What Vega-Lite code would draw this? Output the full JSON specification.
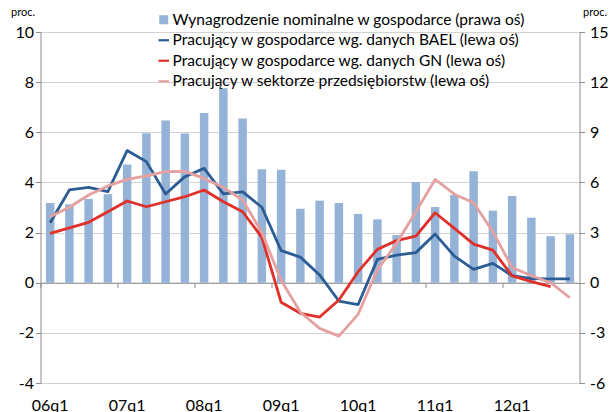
{
  "$schema": "https://vega.github.io/schema/vega-lite/v6.json",
  "width": 539,
  "height": 351,
  "autosize": {"type": "none"},
  "padding": {"left": 40.5, "top": 32, "right": 30.5, "bottom": 29},
  "background": "white",
  "config": {
    "view": {"stroke": null},
    "font": "Lato",
    "axis": {
      "labelFont": "Lato",
      "labelFontSize": 16,
      "labelColor": "#000000",
      "domainColor": "#8c8c8c",
      "tickColor": "#8c8c8c",
      "gridColor": "#d2d2d2",
      "titleFont": "Lato",
      "titleFontSize": 11,
      "titleFontWeight": "normal",
      "titleColor": "#000000"
    },
    "legend": {"labelFont": "Lato", "labelFontSize": 15.5, "labelColor": "#000000", "labelLimit": 0}
  },
  "datasets": {
    "d": [
      {"q": "06q1", "s": "W", "v": 4.77}, {"q": "06q2", "s": "W", "v": 4.69}, {"q": "06q3", "s": "W", "v": 5.01}, {"q": "06q4", "s": "W", "v": 5.29},
      {"q": "07q1", "s": "W", "v": 7.08}, {"q": "07q2", "s": "W", "v": 8.94}, {"q": "07q3", "s": "W", "v": 9.70}, {"q": "07q4", "s": "W", "v": 8.92},
      {"q": "08q1", "s": "W", "v": 10.16}, {"q": "08q2", "s": "W", "v": 11.63}, {"q": "08q3", "s": "W", "v": 9.82}, {"q": "08q4", "s": "W", "v": 6.79},
      {"q": "09q1", "s": "W", "v": 6.76}, {"q": "09q2", "s": "W", "v": 4.43}, {"q": "09q3", "s": "W", "v": 4.91}, {"q": "09q4", "s": "W", "v": 4.77},
      {"q": "10q1", "s": "W", "v": 4.11}, {"q": "10q2", "s": "W", "v": 3.79}, {"q": "10q3", "s": "W", "v": 2.85}, {"q": "10q4", "s": "W", "v": 6.03},
      {"q": "11q1", "s": "W", "v": 4.53}, {"q": "11q2", "s": "W", "v": 5.25}, {"q": "11q3", "s": "W", "v": 6.67}, {"q": "11q4", "s": "W", "v": 4.31},
      {"q": "12q1", "s": "W", "v": 5.19}, {"q": "12q2", "s": "W", "v": 3.89}, {"q": "12q3", "s": "W", "v": 2.78}, {"q": "12q4", "s": "W", "v": 2.90},

      {"q": "06q1", "s": "BAEL", "v": 2.39}, {"q": "06q2", "s": "BAEL", "v": 3.70}, {"q": "06q3", "s": "BAEL", "v": 3.80}, {"q": "06q4", "s": "BAEL", "v": 3.63},
      {"q": "07q1", "s": "BAEL", "v": 5.27}, {"q": "07q2", "s": "BAEL", "v": 4.83}, {"q": "07q3", "s": "BAEL", "v": 3.54}, {"q": "07q4", "s": "BAEL", "v": 4.23},
      {"q": "08q1", "s": "BAEL", "v": 4.56}, {"q": "08q2", "s": "BAEL", "v": 3.54}, {"q": "08q3", "s": "BAEL", "v": 3.62}, {"q": "08q4", "s": "BAEL", "v": 3.01},
      {"q": "09q1", "s": "BAEL", "v": 1.28}, {"q": "09q2", "s": "BAEL", "v": 1.02}, {"q": "09q3", "s": "BAEL", "v": 0.31}, {"q": "09q4", "s": "BAEL", "v": -0.73},
      {"q": "10q1", "s": "BAEL", "v": -0.87}, {"q": "10q2", "s": "BAEL", "v": 0.93}, {"q": "10q3", "s": "BAEL", "v": 1.10}, {"q": "10q4", "s": "BAEL", "v": 1.20},
      {"q": "11q1", "s": "BAEL", "v": 1.94}, {"q": "11q2", "s": "BAEL", "v": 1.06}, {"q": "11q3", "s": "BAEL", "v": 0.53}, {"q": "11q4", "s": "BAEL", "v": 0.77},
      {"q": "12q1", "s": "BAEL", "v": 0.28}, {"q": "12q2", "s": "BAEL", "v": 0.16}, {"q": "12q3", "s": "BAEL", "v": 0.15}, {"q": "12q4", "s": "BAEL", "v": 0.15},

      {"q": "06q1", "s": "GN", "v": 1.97}, {"q": "06q2", "s": "GN", "v": 2.19}, {"q": "06q3", "s": "GN", "v": 2.41}, {"q": "06q4", "s": "GN", "v": 2.83},
      {"q": "07q1", "s": "GN", "v": 3.26}, {"q": "07q2", "s": "GN", "v": 3.03}, {"q": "07q3", "s": "GN", "v": 3.23}, {"q": "07q4", "s": "GN", "v": 3.43},
      {"q": "08q1", "s": "GN", "v": 3.70}, {"q": "08q2", "s": "GN", "v": 3.23}, {"q": "08q3", "s": "GN", "v": 2.83}, {"q": "08q4", "s": "GN", "v": 1.81},
      {"q": "09q1", "s": "GN", "v": -0.78}, {"q": "09q2", "s": "GN", "v": -1.22}, {"q": "09q3", "s": "GN", "v": -1.37}, {"q": "09q4", "s": "GN", "v": -0.69},
      {"q": "10q1", "s": "GN", "v": 0.44}, {"q": "10q2", "s": "GN", "v": 1.33}, {"q": "10q3", "s": "GN", "v": 1.68}, {"q": "10q4", "s": "GN", "v": 1.86},
      {"q": "11q1", "s": "GN", "v": 2.79}, {"q": "11q2", "s": "GN", "v": 2.17}, {"q": "11q3", "s": "GN", "v": 1.54}, {"q": "11q4", "s": "GN", "v": 1.30},
      {"q": "12q1", "s": "GN", "v": 0.27}, {"q": "12q2", "s": "GN", "v": 0.04}, {"q": "12q3", "s": "GN", "v": -0.16},

      {"q": "06q1", "s": "SP", "v": 2.63}, {"q": "06q2", "s": "SP", "v": 3.01}, {"q": "06q3", "s": "SP", "v": 3.50}, {"q": "06q4", "s": "SP", "v": 3.86},
      {"q": "07q1", "s": "SP", "v": 4.12}, {"q": "07q2", "s": "SP", "v": 4.26}, {"q": "07q3", "s": "SP", "v": 4.43}, {"q": "07q4", "s": "SP", "v": 4.44},
      {"q": "08q1", "s": "SP", "v": 4.16}, {"q": "08q2", "s": "SP", "v": 3.80}, {"q": "08q3", "s": "SP", "v": 3.30}, {"q": "08q4", "s": "SP", "v": 2.00},
      {"q": "09q1", "s": "SP", "v": 0.10}, {"q": "09q2", "s": "SP", "v": -1.18}, {"q": "09q3", "s": "SP", "v": -1.82}, {"q": "09q4", "s": "SP", "v": -2.13},
      {"q": "10q1", "s": "SP", "v": -1.26}, {"q": "10q2", "s": "SP", "v": 0.51}, {"q": "10q3", "s": "SP", "v": 1.57}, {"q": "10q4", "s": "SP", "v": 2.83},
      {"q": "11q1", "s": "SP", "v": 4.12}, {"q": "11q2", "s": "SP", "v": 3.53}, {"q": "11q3", "s": "SP", "v": 3.19}, {"q": "11q4", "s": "SP", "v": 2.03},
      {"q": "12q1", "s": "SP", "v": 0.61}, {"q": "12q2", "s": "SP", "v": 0.28}, {"q": "12q3", "s": "SP", "v": 0.00}, {"q": "12q4", "s": "SP", "v": -0.60}
    ]
  },
  "data": {"name": "d"},
  "layer": [
    {
      "transform": [{"filter": "datum.s === 'W'"}],
      "mark": {"type": "bar"},
      "encoding": {
        "x": {
          "field": "q", "type": "ordinal",
          "scale": {"paddingInner": 0.56, "paddingOuter": 0.28},
          "axis": {
            "orient": "bottom",
            "title": null, "domain": false, "ticks": false, "grid": false,
            "labelAngle": 0, "labelPadding": 14,
            "values": ["06q1", "07q1", "08q1", "09q1", "10q1", "11q1", "12q1"]
          }
        },
        "y": {
          "field": "v", "type": "quantitative",
          "scale": {"domain": [-6, 15], "nice": false, "zero": false},
          "axis": {
            "orient": "right", "grid": false, "tickSize": 5, "labelPadding": 5,
            "values": [-6, -3, 0, 3, 6, 9, 12, 15],
            "labelExpr": "'' + datum.value",
            "title": "proc.", "titleAngle": 0, "titleAlign": "center", "titleBaseline": "middle",
            "titleX": 15, "titleY": -20
          }
        },
        "color": {
          "field": "s", "type": "nominal",
          "scale": {"domain": ["W", "BAEL", "GN", "SP"], "range": ["#95b3d7", "#2c5c94", "#e0302a", "#e4a19f"]},
          "legend": {
            "title": null,
            "orient": "none",
            "legendX": 115.5,
            "legendY": -20,
            "padding": 0,
            "rowPadding": 3.5,
            "labelOffset": 1,
            "labelLimit": 0,
            "labelExpr": "datum.value === 'W' ? 'Wynagrodzenie nominalne w gospodarce (prawa oś)' : datum.value === 'BAEL' ? 'Pracujący w gospodarce wg. danych BAEL (lewa oś)' : datum.value === 'GN' ? 'Pracujący w gospodarce wg. danych GN (lewa oś)' : 'Pracujący w sektorze przedsiębiorstw (lewa oś)'",
            "encode": {
              "symbols": {
                "update": {
                  "shape": {"signal": "datum.value === 'W' ? 'square' : 'stroke'"},
                  "size": {"signal": "datum.value === 'W' ? 81 : 110"},
                  "fill": {"scale": "color", "field": "value"},
                  "stroke": {"scale": "color", "field": "value"},
                  "strokeWidth": {"signal": "datum.value === 'W' ? 0 : 2.2"},
                  "opacity": {"value": 1}
                }
              }
            }
          }
        }
      }
    },
    {
      "transform": [{"filter": "datum.s !== 'W'"}],
      "mark": {"type": "line", "strokeWidth": 2.8, "strokeJoin": "round"},
      "encoding": {
        "x": {
          "field": "q", "type": "ordinal",
          "axis": {
            "orient": "bottom",
            "title": null, "labels": false, "grid": false, "domain": true, "ticks": true,
            "tickSize": 5, "tickOffset": -9.625, "offset": -100.29,
            "values": ["06q1", "07q1", "08q1", "09q1", "10q1", "11q1", "12q1"]
          }
        },
        "y": {
          "field": "v", "type": "quantitative",
          "scale": {"domain": [-4, 10], "nice": false, "zero": false},
          "axis": {
            "orient": "left", "grid": true, "tickSize": 5, "labelPadding": 2,
            "values": [-4, -2, 0, 2, 4, 6, 8, 10],
            "labelExpr": "'' + datum.value",
            "title": "proc.", "titleAngle": 0, "titleAlign": "center", "titleBaseline": "middle",
            "titleX": -18, "titleY": -20
          }
        },
        "color": {"field": "s", "type": "nominal"}
      }
    }
  ],
  "resolve": {"scale": {"y": "independent"}, "axis": {"x": "independent"}}
}
